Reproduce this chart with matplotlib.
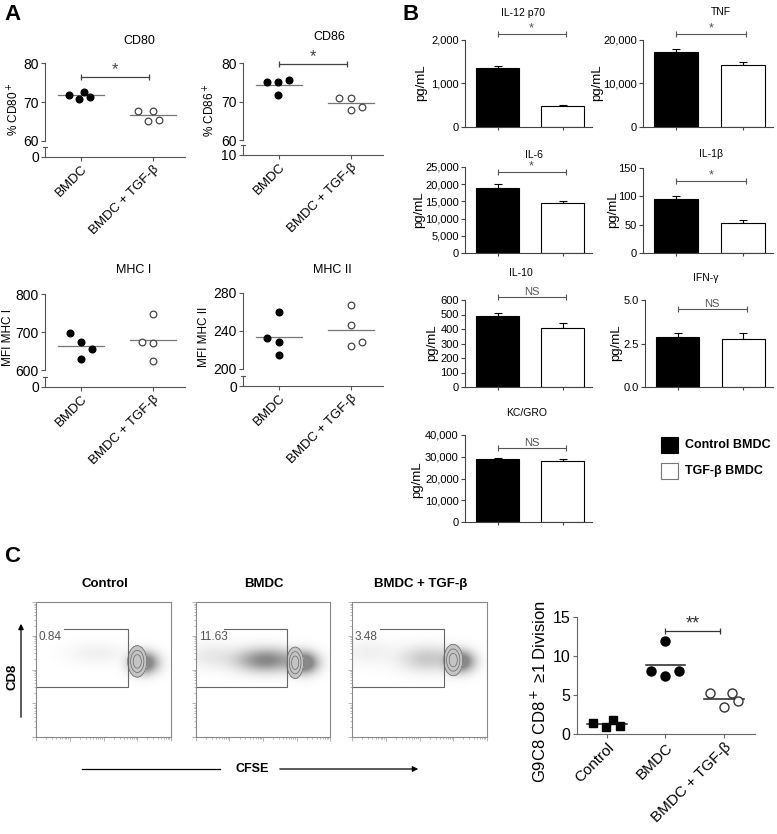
import numpy as np
import matplotlib

matplotlib.use("Agg")
import matplotlib.pyplot as plt
from matplotlib.patches import Rectangle

plt.rcParams["font.family"] = ["Liberation Sans", "DejaVu Sans"]

W, H = 777, 834

# ---------------- data ----------------
# panel A: surface markers (4 mice per group)
groups_a = ["BMDC", "BMDC + TGF-β"]
cd80_bmdc = [71.9, 70.85, 72.65, 71.3]
cd80_tgf = [67.8, 67.8, 65.1, 65.5]
cd86_bmdc = [75.0, 75.0, 75.5, 71.7]
cd86_tgf = [71.0, 70.9, 67.8, 68.7]
mhc1_bmdc = [698, 673, 656, 628]
mhc1_tgf = [748, 674, 670, 623]
mhc2_bmdc = [259.5, 233, 228.7, 214.5]
mhc2_tgf = [267, 246.4, 223.7, 228.7]

# panel B: cytokines (mean, sem) control BMDC / TGF-b BMDC
il12 = [1346, 477]
il12_err = [62, 23]
tnf = [17308, 14231]
tnf_err = [538, 692]
il6 = [19038, 14423]
il6_err = [962, 577]
il1b = [94.5, 52.5]
il1b_err = [5.8, 5.3]
il10 = [491.5, 404]
il10_err = [20.5, 39]
ifng = [2.885, 2.73]
ifng_err = [0.19, 0.40]
kcgro = [28855, 28244]
kcgro_err = [765, 916]

# panel C: proliferation
groups_c = ["Control", "BMDC", "BMDC + TGF-β"]
div_control = [1.4, 0.85, 1.75, 1.06]
div_bmdc = [11.86, 8.09, 7.5, 8.09]
div_tgf = [5.2, 5.2, 3.43, 4.24]
gate_pct = ["0.84", "11.63", "3.48"]
# flow clouds: (cfse, cd8, sd cfse, sd cd8, weight) in plot fractions
control_cloud = [(0.80, 0.55, 0.065, 0.05, 1.0), (0.45, 0.62, 0.13, 0.05, 0.05)]
bmdc_cloud = [(0.80, 0.55, 0.065, 0.05, 1.0), (0.52, 0.57, 0.14, 0.055, 0.7), (0.12, 0.60, 0.12, 0.06, 0.08)]
tgf_cloud = [(0.80, 0.56, 0.065, 0.05, 1.0), (0.56, 0.58, 0.13, 0.06, 0.25), (0.12, 0.63, 0.12, 0.06, 0.05)]
core_ellipses = [(0.75, 0.56, 0.045, 0.075), (0.74, 0.55, 0.04, 0.075), (0.75, 0.57, 0.045, 0.075)]

# beeswarm offsets (category units)
jit_a = {
    "cd80": ([-0.17, -0.02, 0.05, 0.13], [-0.21, 0.01, -0.06, 0.09]),
    "cd86": ([-0.17, -0.01, 0.14, -0.01], [-0.16, 0.0, 0.0, 0.16]),
    "mhc1": ([-0.15, 0.0, 0.16, 0.0], [0.0, -0.15, 0.0, 0.0]),
    "mhc2": ([0.0, -0.16, 0.0, 0.0], [0.0, 0.0, 0.0, 0.16]),
}
jit_c = [[-0.24, -0.01, 0.11, 0.23], [0.0, -0.25, 0.0, 0.24], [-0.24, 0.13, 0.0, 0.245]]

SPINE = "#555555"

fig = plt.figure(figsize=(W / 100, H / 100), dpi=100)


def add_ax(left, top, right, bottom):
    return fig.add_axes([left / W, 1 - bottom / H, (right - left) / W, (bottom - top) / H])


over = fig.add_axes([0, 0, 1, 1])
over.set_xlim(0, W)
over.set_ylim(H, 0)
over.axis("off")


def style(ax, color=SPINE):
    for s in ("top", "right"):
        ax.spines[s].set_visible(False)
    for s in ("left", "bottom"):
        ax.spines[s].set_color(color)
        ax.spines[s].set_linewidth(0.8)
    ax.tick_params(colors=color, labelcolor="black", length=3, width=0.8, pad=1.5)
    ax.patch.set_alpha(0)


# ---------------- panel A ----------------
def marker_panel(key, box, low_bottom, ylim, yticks, low_label, bmdc, tgf, title, title_xy, ylabel, ylabel_xy, sig_y=None):
    left, top, right, bottom = box
    ax = add_ax(left, top, right, bottom)
    style(ax)
    ax.spines["bottom"].set_visible(False)
    ax.set_xlim(-0.5, 1.45)
    ax.set_ylim(*ylim)
    ax.set_xticks([])
    ax.set_yticks(yticks)
    ax.tick_params(axis="y", labelsize=10)

    jb, jt = jit_a[key]
    ax.plot(np.array(jb), bmdc, "o", color="black", ms=4.8, clip_on=False, zorder=3)
    ax.plot(1 + np.array(jt), tgf, "o", mfc="white", mec="#444444", mew=0.9, ms=4.8, clip_on=False, zorder=3)
    for x, vals in ((0, bmdc), (1, tgf)):
        ax.plot([x - 0.32, x + 0.32], [np.mean(vals)] * 2, color="#777777", lw=0.9, zorder=2)

    if sig_y is not None:
        ax.plot([0, 0.95], [sig_y] * 2, color="#444444", lw=0.9, clip_on=False)
        ax.plot([0, 0.95], [sig_y] * 2, "|", color="#444444", ms=4, mew=0.9, clip_on=False)
        ax.text(0.47, sig_y, "*", ha="center", va="bottom", fontsize=12, color="#444444")

    low = add_ax(left, low_bottom - 10, right, low_bottom)
    style(low)
    low.set_xlim(-0.5, 1.45)
    low.set_ylim(0, 1)
    low.set_yticks([0])
    low.set_yticklabels([low_label])
    low.tick_params(axis="y", labelsize=10)
    low.set_xticks([0, 1])
    low.set_xticklabels(groups_a, rotation=45, ha="right", rotation_mode="anchor", fontsize=9.5)
    over.plot([left - 2, left + 2], [low_bottom - 10] * 2, color=SPINE, lw=0.8)

    over.text(*title_xy, title, ha="center", va="center", fontsize=9)
    over.text(*ylabel_xy, ylabel, ha="center", va="center", rotation=90, fontsize=8.5)


marker_panel("cd80", (45, 63, 185, 141), 157, (60, 80), [60, 70, 80], "0", cd80_bmdc, cd80_tgf,
             "CD80", (139, 41), "% CD80$^+$", (14, 109), sig_y=76.3)
marker_panel("cd86", (243, 63, 383, 140), 155, (60, 80), [60, 70, 80], "10", cd86_bmdc, cd86_tgf,
             "CD86", (329, 37), "% CD86$^+$", (210, 110), sig_y=79.8)
marker_panel("mhc1", (45, 294, 185, 370), 387, (600, 800), [600, 700, 800], "0", mhc1_bmdc, mhc1_tgf,
             "MHC I", (134, 270), "MFI MHC I", (8, 337))
marker_panel("mhc2", (243, 293, 383, 369), 386, (200, 280), [200, 240, 280], "0", mhc2_bmdc, mhc2_tgf,
             "MHC II", (332, 270), "MFI MHC II", (204, 337))


# ---------------- panel B ----------------
def bar_panel(box, vals, errs, top_val, yticks, fmt, title, title_xy, ylab_xy, sig_y, sig_txt):
    ax = add_ax(*box)
    style(ax, "#444444")
    ax.set_xlim(-0.5, 1.45)
    ax.set_ylim(0, top_val)
    ax.bar([0, 1], vals, width=0.66, color=["black", "white"], edgecolor="black", lw=0.8, zorder=2)
    ax.errorbar([0, 1], vals, yerr=[[0, 0], errs], fmt="none", ecolor="black", elinewidth=0.8,
                capsize=3, capthick=0.8, zorder=1)
    ax.set_yticks(yticks)
    ax.set_yticklabels([fmt.format(v) for v in yticks], fontsize=8)
    ax.set_xticks([0, 1])
    ax.set_xticklabels([])
    ax.tick_params(axis="x", length=2.5)
    ax.plot([0, 1.05], [sig_y] * 2, color="#555555", lw=0.8, clip_on=False)
    ax.plot([0, 1.05], [sig_y] * 2, "|", color="#555555", ms=4, mew=0.8, clip_on=False)
    ax.text(0.52, sig_y, sig_txt, ha="center", va="bottom", fontsize=8 if sig_txt == "NS" else 9,
            color="#555555")
    over.text(*title_xy, title, ha="center", va="center", fontsize=7.5)
    over.text(*ylab_xy, "pg/mL", ha="center", va="center", rotation=90, fontsize=9.5)


bar_panel((465, 40, 592, 127), il12, il12_err, 2000, [0, 1000, 2000], "{:,.0f}",
          "IL-12 p70", (523, 13), (421, 83), 2130, "*")
bar_panel((643, 40, 773, 127), tnf, tnf_err, 20000, [0, 10000, 20000], "{:,.0f}",
          "TNF", (721, 12), (597, 83), 21300, "*")
bar_panel((465, 167, 592, 253), il6, il6_err, 25000, [0, 5000, 10000, 15000, 20000, 25000], "{:,.0f}",
          "IL-6", (534, 155), (419, 210), 23560, "*")
bar_panel((643, 168, 773, 253), il1b, il1b_err, 150, [0, 50, 100, 150], "{:,.0f}",
          "IL-1β", (711, 154), (613, 210), 127, "*")
bar_panel((465, 300, 592, 387), il10, il10_err, 600, [0, 100, 200, 300, 400, 500, 600], "{:,.0f}",
          "IL-10", (521, 273), (432, 343), 623, "NS")
bar_panel((645, 300, 773, 387), ifng, ifng_err, 5.0, [0.0, 2.5, 5.0], "{:.1f}",
          "IFN-γ", (706, 278), (616, 343), 4.46, "NS")
bar_panel((465, 435, 592, 522), kcgro, kcgro_err, 40000, [0, 10000, 20000, 30000, 40000], "{:,.0f}",
          "KC/GRO", (527, 413), (417, 480), 34050, "NS")

# legend
over.add_patch(Rectangle((661, 437), 17, 16, facecolor="black", edgecolor="black", lw=0.8))
over.add_patch(Rectangle((661, 463), 17, 16, facecolor="white", edgecolor="#777777", lw=0.8))
over.text(685, 445, "Control BMDC", ha="left", va="center", fontsize=9, fontweight="bold")
over.text(685, 471, "TGF-β BMDC", ha="left", va="center", fontsize=9, fontweight="bold")


# ---------------- panel C: flow plots ----------------
def flow_panel(box, cloud, core, pct, title):
    left, top, right, bottom = box
    ax = add_ax(left, top, right, bottom)
    ax.set_xlim(0, 1)
    ax.set_ylim(0, 1)
    for s in ax.spines.values():
        s.set_color("#888888")
        s.set_linewidth(0.8)
    nx, ny = 160, 160
    xs = (np.arange(nx) + 0.5) / nx
    ys = (np.arange(ny) + 0.5) / ny
    X, Y = np.meshgrid(xs, ys)
    dens = np.zeros_like(X)
    for cx, cy, sx, sy, w in cloud:
        dens += w * np.exp(-0.5 * (((X - cx) / sx) ** 2 + ((Y - cy) / sy) ** 2))
    alpha = np.clip(dens * 1.5, 0, 1) ** 0.8 * 0.8
    img = np.zeros((ny, nx, 4))
    img[..., :3] = 0.42
    img[..., 3] = alpha
    ax.imshow(img, extent=(0, 1, 0, 1), origin="lower", interpolation="bilinear", aspect="auto")
    cx, cy, sx, sy = core
    cd = np.exp(-0.5 * (((X - cx) / sx) ** 2 + ((Y - cy) / sy) ** 2))
    ax.contourf(X, Y, cd, levels=[0.3, 1.1], colors=["#c4c4c4"])
    ax.contour(X, Y, cd, levels=[0.3, 0.55, 0.8], colors="#666666", linewidths=0.5)

    ax.plot([0.21, 0.68, 0.68, 0.0], [0.80, 0.80, 0.37, 0.37], color="#666666", lw=0.8)
    ax.text(0.02, 0.74, pct, ha="left", va="center", fontsize=8.5, color="#555555")

    major = [0, 0.25, 0.5, 0.75]
    minor = [m + 0.25 * np.log10(k) for m in major for k in range(2, 10)]
    ax.set_xticks(major + [1.0])
    ax.set_yticks(major + [1.0])
    ax.set_xticks(minor, minor=True)
    ax.set_yticks(minor, minor=True)
    ax.set_xticklabels([])
    ax.set_yticklabels([])
    ax.tick_params(which="both", direction="out", colors="#999999", width=0.5)
    ax.tick_params(which="major", length=3)
    ax.tick_params(which="minor", length=1.5)
    over.text((left + right) / 2 + 1, top - 18, title, ha="center", va="center", fontsize=9.5,
              fontweight="bold")


flow_panel((36, 602, 171, 737), control_cloud, core_ellipses[0], gate_pct[0], groups_c[0])
flow_panel((196, 602, 330, 737), bmdc_cloud, core_ellipses[1], gate_pct[1], groups_c[1])
flow_panel((352, 602, 487, 737), tgf_cloud, core_ellipses[2], gate_pct[2], groups_c[2])

over.annotate("", xy=(21, 621), xytext=(21, 720),
              arrowprops=dict(arrowstyle="-|>", color="black", lw=0.9, mutation_scale=8))
over.text(13, 677, "CD8", ha="center", va="center", rotation=90, fontsize=9.5, fontweight="bold")
over.plot([82, 220], [769, 769], color="black", lw=0.9)
over.annotate("", xy=(421, 769), xytext=(277, 769),
              arrowprops=dict(arrowstyle="-|>", color="black", lw=0.9, mutation_scale=8))
over.text(252, 769, "CFSE", ha="center", va="center", fontsize=9, fontweight="bold")

# ---------------- panel C: division dot plot ----------------
ax = add_ax(577, 617, 755, 734)
style(ax, "#666666")
ax.set_xlim(-0.51, 2.53)
ax.set_ylim(0, 15)
ax.set_yticks([0, 5, 10, 15])
ax.tick_params(axis="y", labelsize=11.5)
ax.set_xticks([0, 1, 2])
ax.set_xticklabels(groups_c, rotation=45, ha="right", rotation_mode="anchor", fontsize=11)
ax.plot(np.array(jit_c[0]), div_control, "s", color="black", ms=5.5, clip_on=False, zorder=3)
ax.plot(1 + np.array(jit_c[1]), div_bmdc, "o", color="black", ms=6.5, clip_on=False, zorder=3)
ax.plot(2 + np.array(jit_c[2]), div_tgf, "o", mfc="white", mec="#333333", mew=1.0, ms=6.5,
        clip_on=False, zorder=3)
for x, vals in enumerate((div_control, div_bmdc, div_tgf)):
    ax.plot([x - 0.34, x + 0.34], [np.mean(vals)] * 2, color="#222222", lw=1.1, zorder=2)
ax.plot([1, 1.94], [13.2] * 2, color="#333333", lw=0.9, clip_on=False)
ax.plot([1, 1.94], [13.2] * 2, "|", color="#333333", ms=5, mew=0.9, clip_on=False)
ax.text(1.47, 13.0, "**", ha="center", va="bottom", fontsize=13, color="#333333")
over.text(539, 692, "G9C8 CD8$^+$ ≥1 Division", ha="center", va="center", rotation=90, fontsize=12)

# panel letters
over.text(4, 14, "A", ha="left", va="center", fontsize=16, fontweight="bold")
over.text(402, 14, "B", ha="left", va="center", fontsize=16, fontweight="bold")
over.text(4, 557, "C", ha="left", va="center", fontsize=16, fontweight="bold")

fig.savefig("out.png", dpi=100)
